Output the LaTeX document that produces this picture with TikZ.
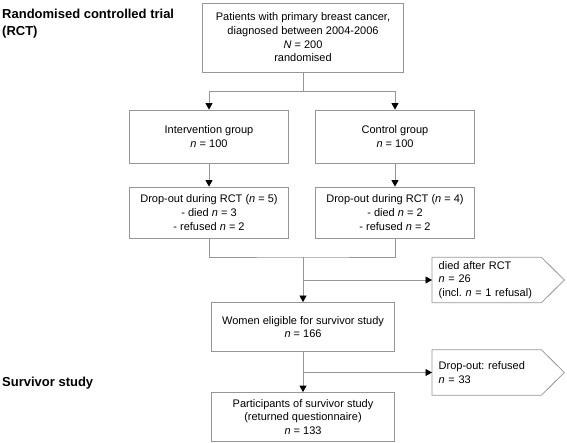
\documentclass[tikz,border=0pt]{standalone}
\usepackage{fontspec}
\setmainfont{Liberation Sans}
\usetikzlibrary{arrows.meta,calc}
\definecolor{ln}{RGB}{150,150,150}
\frenchspacing
\begin{document}
\begin{tikzpicture}[x=1pt,y=-1pt,
  box/.style={draw=ln,line width=0.8pt,rectangle,inner sep=0pt,align=center,
    font=\fontsize{11}{13.7}\selectfont},
  flag/.style={draw=none,rectangle,inner ysep=0pt,inner xsep=6.5pt,text width=96pt,
    minimum height=45pt,align=left,anchor=west,font=\fontsize{11}{13.5}\selectfont},
  conn/.style={draw=ln,line width=0.8pt},
  arr/.style={conn,-{Triangle[length=6.5pt,width=7pt,color=black]}},
  title/.style={inner sep=0pt,anchor=west,align=left,font=\fontsize{13}{17}\selectfont\bfseries}]
\useasboundingbox (0,0) rectangle (567,443);

\node[title] (t1) at (2,23.5) {Randomised controlled trial\\(RCT)};
\node[title] (t2) at (2,383) {Survivor study};

\node[box,minimum width=201pt,minimum height=69pt] (top) at (303,37.5)
  {Patients with primary breast cancer,\\diagnosed between 2004-2006\\\textit{N} = 200\\randomised};
\node[box,minimum width=159pt,minimum height=53pt] (int) at (209,136.5)
  {Intervention group\\\textit{n} = 100};
\node[box,minimum width=159pt,minimum height=53pt] (ctl) at (395,136.5)
  {Control group\\\textit{n} = 100};
\node[box,minimum width=159pt,minimum height=51pt] (do1) at (209,212.5)
  {Drop-out during RCT (\textit{n} = 5)\\- died \textit{n} = 3\\- refused \textit{n} = 2};
\node[box,minimum width=159pt,minimum height=51pt] (do2) at (395,212.5)
  {Drop-out during RCT (\textit{n} = 4)\\- died \textit{n} = 2\\- refused \textit{n} = 2};
\node[box,minimum width=183pt,minimum height=49pt] (wom) at (303,327)
  {Women eligible for survivor study\\\textit{n} = 166};
\node[box,minimum width=183pt,minimum height=49pt] (part) at (303,417)
  {Participants of survivor study\\(returned questionnaire)\\\textit{n} = 133};

\node[flag] (d1) at (432,280)
  {died after RCT\\\textit{n} = 26\\(incl. \textit{n} = 1 refusal)};
\node[flag] (d2) at (432,372.5)
  {Drop-out: refused\\\textit{n} = 33};
\draw[conn] (d1.north west) -- (d1.north east) -- ([xshift=23pt]d1.east) -- (d1.south east) -- (d1.south west) -- cycle;
\draw[conn] (d2.north west) -- (d2.north east) -- ([xshift=23pt]d2.east) -- (d2.south east) -- (d2.south west) -- cycle;

\coordinate (s1) at (303,91);
\coordinate (j1) at (303,257);
\coordinate (b1) at (303,280);
\coordinate (b2) at (303,372.5);

\draw[conn] (top.south) -- (s1);
\draw[arr] (s1) -| (int.north);
\draw[arr] (s1) -| (ctl.north);
\draw[arr] (int.south) -- (do1.north);
\draw[arr] (ctl.south) -- (do2.north);
\draw[conn] (do1.south) |- (j1) -| (do2.south);
\draw[arr] (j1) -- (wom.north);
\draw[arr] (b1) -- (d1.west);
\draw[arr] (wom.south) -- (part.north);
\draw[arr] (b2) -- (d2.west);
\end{tikzpicture}
\end{document}
